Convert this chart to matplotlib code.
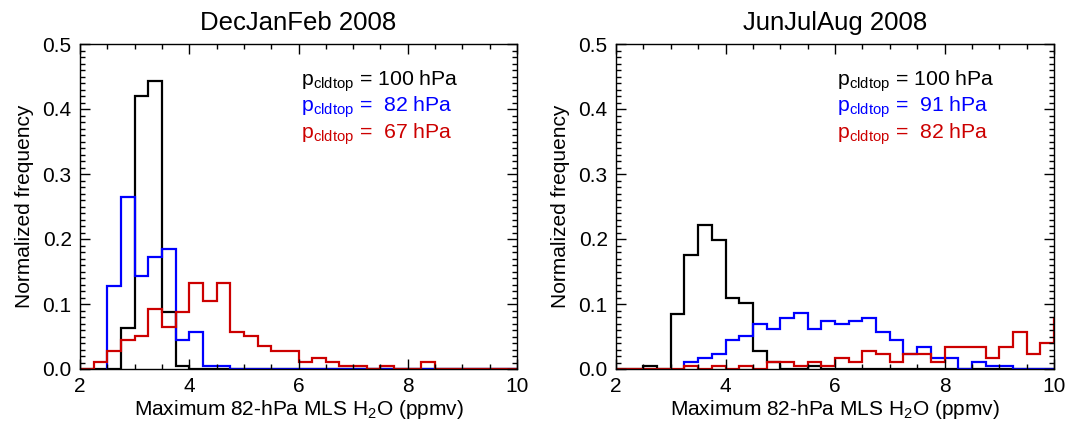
import numpy as np
import matplotlib
matplotlib.use('Agg')
from matplotlib import pyplot as plt
from matplotlib.ticker import MultipleLocator, FormatStrFormatter

plt.rcParams['font.family'] = ['Liberation Sans', 'DejaVu Sans']
plt.rcParams['mathtext.fontset'] = 'custom'
plt.rcParams['mathtext.rm'] = 'Liberation Sans'
plt.rcParams['mathtext.it'] = 'Liberation Sans'

# bin width of the histograms (ppmv)
bin_w = 0.25

# DecJanFeb 2008: normalized frequency per 0.25-ppmv bin
djf_black_start = 2.0
djf_black = [0, 0, 0, 0.063, 0.42, 0.443, 0.087, 0.005,
             0, 0, 0, 0, 0, 0, 0, 0,
             0, 0, 0, 0, 0, 0, 0, 0,
             0, 0, 0, 0, 0, 0, 0, 0]
djf_blue_start = 2.5
djf_blue = [0.127, 0.265, 0.143, 0.173, 0.184, 0.045, 0.057, 0.005, 0.005,
            0, 0, 0, 0, 0, 0, 0, 0, 0, 0, 0,
            0, 0, 0, 0, 0, 0, 0, 0, 0, 0]
djf_red_start = 2.0
djf_red = [0, 0.011, 0.028, 0.045, 0.051, 0.092, 0.064, 0.087,
           0.133, 0.104, 0.133, 0.057, 0.051, 0.035, 0.028, 0.028,
           0.011, 0.017, 0.011, 0.005, 0.005, 0, 0.005, 0,
           0, 0.011, 0, 0, 0, 0, 0, 0]

# JunJulAug 2008
jja_black_start = 2.0
jja_black = [0, 0, 0.005, 0, 0.085, 0.175, 0.222, 0.198,
             0.109, 0.101, 0.028, 0.011, 0, 0, 0.004, 0,
             0, 0, 0, 0, 0, 0, 0, 0,
             0, 0, 0, 0, 0, 0, 0, 0]
jja_blue_start = 3.25
jja_blue = [0.011, 0.017, 0.0225, 0.045, 0.051, 0.069, 0.062, 0.079, 0.086,
            0.062, 0.074, 0.069, 0.074, 0.079, 0.057, 0.045, 0.0225, 0.034,
            0.017, 0.017, 0, 0.011, 0.005, 0.005, 0, 0, 0]
jja_red_start = 2.0
jja_red = [0, 0, 0, 0, 0, 0.005, 0, 0.005,
           0, 0.005, 0, 0.011, 0.011, 0.005, 0.011, 0.005,
           0.017, 0.011, 0.028, 0.0225, 0.011, 0.0225, 0.0225, 0.011,
           0.034, 0.034, 0.034, 0.017, 0.034, 0.057, 0.0225, 0.0395,
           0.078]

titles = ['DecJanFeb 2008', 'JunJulAug 2008']
djf_labels = [r'p$_{\rm cldtop}$ = 100 hPa', r'p$_{\rm cldtop}$ =  82 hPa', r'p$_{\rm cldtop}$ =  67 hPa']
jja_labels = [r'p$_{\rm cldtop}$ = 100 hPa', r'p$_{\rm cldtop}$ =  91 hPa', r'p$_{\rm cldtop}$ =  82 hPa']
colors = ['black', '#0000ff', '#cc0000']

panels = [
    (titles[0], [(djf_black_start, djf_black), (djf_blue_start, djf_blue), (djf_red_start, djf_red)], djf_labels),
    (titles[1], [(jja_black_start, jja_black), (jja_blue_start, jja_blue), (jja_red_start, jja_red)], jja_labels),
]

fig = plt.figure(figsize=(10.81, 4.25), dpi=100)
ax_pos = [[80/1081, 56/425, 437/1081, 325/425],
          [616/1081, 56/425, 438/1081, 325/425]]

for pos, (title, series, labels) in zip(ax_pos, panels):
    ax = fig.add_axes(pos)
    for (start, vals), c in zip(series, colors):
        edges = start + bin_w*np.arange(len(vals) + 1)
        ax.stairs(vals, edges, color=c, lw=1.6, baseline=0)

    ax.set_xlim(2, 10)
    ax.set_ylim(0, 0.5)
    ax.set_xticks([2, 4, 6, 8, 10])
    ax.xaxis.set_minor_locator(MultipleLocator(0.5))
    ax.set_yticks([0, 0.1, 0.2, 0.3, 0.4, 0.5])
    ax.yaxis.set_minor_locator(MultipleLocator(0.01))
    ax.yaxis.set_major_formatter(FormatStrFormatter('%.1f'))
    ax.tick_params(which='both', direction='in', top=True, right=True, labelsize=15, width=1.0)
    ax.tick_params(which='major', length=7, pad=6)
    ax.tick_params(which='minor', length=3.5)
    for s in ax.spines.values():
        s.set_linewidth(1.0)

    ax.set_title(title, fontsize=18.5, pad=10)
    ax.set_xlabel(r'Maximum 82-hPa MLS H$_2$O (ppmv)', fontsize=15, labelpad=1)
    ax.set_ylabel('Normalized frequency', fontsize=15, labelpad=6)

    # text legend, one line per cloud-top pressure
    for i, (lab, c) in enumerate(zip(labels, colors)):
        ax.text(0.505, 0.886 - i*0.0815, lab, color=c, fontsize=15.3,
                transform=ax.transAxes, va='center', ha='left')

fig.savefig('out.png', dpi=100)
